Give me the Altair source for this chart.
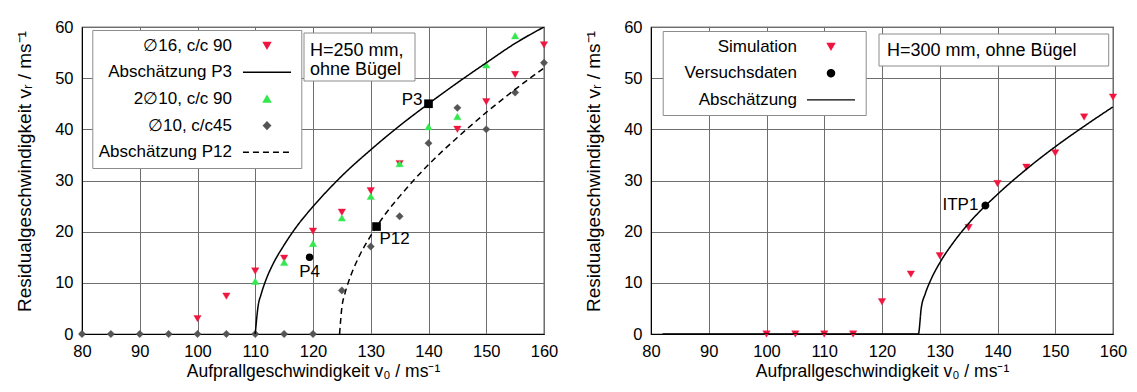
import altair as alt
import pandas as pd

FONT = "Liberation Sans"
RED = "#f0153f"
GREEN = "#33e84f"
GRAY = "#555555"
LINE_SYM = "M-6.8,0H6.8"

# ---------------- left panel: H=250 mm ----------------
d16_v0 = [100, 105, 110, 115, 120, 125, 130, 135, 145, 150, 155, 160]
d16_vr = [3.0, 7.4, 12.3, 14.8, 20.1, 23.8, 28.0, 33.3, 40.0, 45.4, 50.7, 56.5]
d2x10_v0 = [110, 115, 120, 125, 130, 135, 140, 145, 150, 155]
d2x10_vr = [10.3, 14.0, 17.7, 22.7, 26.9, 33.3, 40.5, 42.5, 52.6, 58.3]
d10_v0 = [80, 85, 90, 95, 100, 105, 110, 115, 120, 125, 130, 135, 140, 145, 150, 155, 160]
d10_vr = [0, 0, 0, 0, 0, 0, 0, 0, 0, 8.5, 17.1, 23.0, 37.3, 44.2, 40.0, 47.2, 53.0]

p3_v0 = [110, 110.5, 111, 112, 113, 115, 117.5, 120, 125, 130, 135, 140, 145, 150, 155, 160]
p3_vr = [0, 5.5, 7.7, 11.0, 13.5, 17.4, 21.5, 24.9, 30.9, 36.0, 40.7, 45.0, 49.1, 53.0, 56.8, 60.0]
p12_v0 = [124.6, 125, 125.5, 126, 127, 128, 130, 132.5, 135, 140, 145, 150, 155, 160]
p12_vr = [0, 5.2, 7.8, 9.7, 12.7, 15.2, 19.2, 23.4, 26.9, 33.1, 38.4, 43.3, 47.8, 52.0]

sq_names = ["P3", "P12"]
sq_v0 = [140, 131]
sq_vr = [45, 21]
p4_v0 = [119.4]
p4_vr = [15]

LEG_L = ["\u220516, c/c 90", "Absch\u00e4tzung P3", "2\u220510, c/c 90", "\u220510, c/c45", "Absch\u00e4tzung P12"]
COL_L = [RED, "black", GREEN, GRAY, "black"]
SHP_L = ["triangle-down", LINE_SYM, "triangle-up", "diamond", LINE_SYM]
DASH_L = [[1, 0], [1, 0], [1, 0], [1, 0], [6, 4]]
ANNOT_L = ["H=250 mm,", "ohne B\u00fcgel"]

# ---------------- right panel: H=300 mm ----------------
sim_v0 = [100, 105, 110, 115, 120, 125, 130, 135, 140, 145, 150, 155, 160]
sim_vr = [0, 0, 0, 0, 6.3, 11.7, 15.3, 20.8, 29.4, 32.6, 35.4, 42.4, 46.3]
exp_v0 = [137.9]
exp_vr = [25.1]
est_v0 = [82, 126.3, 126.8, 127.5, 128.5, 130, 132.5, 135, 140, 145, 150, 155, 160]
est_vr = [0, 0, 5.1, 7.9, 10.7, 13.9, 18.1, 21.6, 27.3, 32.2, 36.6, 40.6, 44.4]

LEG_R = ["Simulation", "Versuchsdaten", "Absch\u00e4tzung"]
COL_R = [RED, "black", "black"]
SHP_R = ["triangle-down", "circle", LINE_SYM]
DASH_R = [[1, 0], [1, 0], [1, 0]]
ANNOT_R = ["H=300 mm, ohne B\u00fcgel"]

X_TICKS = [80, 90, 100, 110, 120, 130, 140, 150, 160]
Y_TICKS = [0, 10, 20, 30, 40, 50, 60]
X_TITLE = "Aufprallgeschwindigkeit v\u2080 / ms\u207b\u00b9"
Y_TITLE = "Residualgeschwindigkeit v\u1d63 / ms\u207b\u00b9"

W, H = 462, 307

X = alt.X("v0:Q", scale=alt.Scale(domain=[80, 160], nice=False, zero=False),
          axis=alt.Axis(values=X_TICKS, title=X_TITLE, ticks=False, labelPadding=9,
                        titlePadding=3, labelFlush=False))
Y = alt.Y("vr:Q", scale=alt.Scale(domain=[0, 60], nice=False, zero=False),
          axis=alt.Axis(values=Y_TICKS, title=Y_TITLE, ticks=False, labelPadding=9,
                        titlePadding=20.5, titleFontSize=19, titleY=144))


def legend(lx, ly, loff, soff):
    return alt.Legend(orient="none", legendX=lx, legendY=ly, title=None,
                      labelAlign="right", labelOffset={"expr": str(loff)}, symbolOffset=soff,
                      labelFont=FONT, labelFontSize=17, labelColor="black", labelLimit=0,
                      symbolSize=50, symbolStrokeWidth=1.4, fillColor="white",
                      strokeColor="#8c8c8c", padding=7, rowPadding=8.7,
                      labelBaseline="middle")


def series_layers(pts, lns, dom, cols, shps, dashes, leg):
    fill = alt.Fill("serie:N", scale=alt.Scale(domain=dom, range=cols), legend=leg)
    stroke = alt.Stroke("serie:N", scale=alt.Scale(domain=dom, range=cols), legend=leg)
    shape = alt.Shape("serie:N", scale=alt.Scale(domain=dom, range=shps), legend=leg)
    dash = alt.StrokeDash("serie:N", scale=alt.Scale(domain=dom, range=dashes), legend=leg)
    p = alt.Chart(pts).mark_point(filled=True, opacity=1, size=55, strokeWidth=0.4).encode(
        x=X, y=Y, fill=fill, stroke=stroke, shape=shape, strokeDash=dash)
    l = alt.Chart(lns).mark_line(strokeWidth=1.5, interpolate="monotone", clip=True).encode(
        x=X, y=Y, stroke=stroke, strokeDash=dash, detail="serie:N")
    return p, l


def label(df, text, align, dx, dy):
    return alt.Chart(df).mark_text(align=align, baseline="middle", dx=dx, dy=dy,
                                   font=FONT, fontSize=17, color="black").encode(
        x=X, y=Y, text=alt.value(text))


def annot_box(x1, x2, y1, y2):
    return alt.Chart(pd.DataFrame({"k": [0]})).mark_rect(
        fill="white", stroke="#8c8c8c", strokeWidth=1).encode(
        x=alt.value(x1), x2=alt.value(x2), y=alt.value(y1), y2=alt.value(y2))


def annot_text(text, x, y):
    return alt.Chart(pd.DataFrame({"k": [0]})).mark_text(
        align="left", baseline="middle", font=FONT, fontSize=18, color="black").encode(
        x=alt.value(x), y=alt.value(y), text=alt.value(text))


# ---- left ----
ptsL = pd.DataFrame({
    "v0": d16_v0 + d2x10_v0 + d10_v0,
    "vr": d16_vr + d2x10_vr + d10_vr,
    "serie": [LEG_L[0]] * len(d16_v0) + [LEG_L[2]] * len(d2x10_v0) + [LEG_L[3]] * len(d10_v0),
})
lnsL = pd.DataFrame({
    "v0": p3_v0 + p12_v0,
    "vr": p3_vr + p12_vr,
    "serie": [LEG_L[1]] * len(p3_v0) + [LEG_L[4]] * len(p12_v0),
})
pL, lL = series_layers(ptsL, lnsL, LEG_L, COL_L, SHP_L, DASH_L, legend(10.3, 3, -43.5, 159.2))

sqdf = pd.DataFrame({"v0": sq_v0, "vr": sq_vr, "name": sq_names})
p4df = pd.DataFrame({"v0": p4_v0, "vr": p4_vr, "name": ["P4"]})
squares = alt.Chart(sqdf).mark_point(shape="square", filled=True, color="black",
                                     opacity=1, size=75).encode(x=X, y=Y)
circ4 = alt.Chart(p4df).mark_point(shape="circle", filled=True, color="black",
                                   opacity=1, size=55).encode(x=X, y=Y)
lab3 = label(sqdf.iloc[[0]], "P3", "right", -6, -4)
lab12 = label(sqdf.iloc[[1]], "P12", "left", 3, 12)
lab4 = label(p4df, "P4", "center", 0, 15)

left = alt.layer(
    pL, lL, squares, circ4, lab3, lab12, lab4,
    annot_box(222, 333, 6, 54), annot_text(ANNOT_L[0], 228, 23.5), annot_text(ANNOT_L[1], 228, 42.5),
).properties(width=W, height=H)

# ---- right ----
ptsR = pd.DataFrame({
    "v0": sim_v0 + exp_v0,
    "vr": sim_vr + exp_vr,
    "serie": [LEG_R[0]] * len(sim_v0) + [LEG_R[1]] * len(exp_v0),
})
lnsR = pd.DataFrame({"v0": est_v0, "vr": est_vr, "serie": [LEG_R[2]] * len(est_v0)})
pR, lR = series_layers(ptsR, lnsR, LEG_R, COL_R, SHP_R, DASH_R, legend(11.7, 4, -42.5, 152.8))
expdf = pd.DataFrame({"v0": exp_v0, "vr": exp_vr})
labI = label(expdf, "ITP1", "right", -7, -1)

right = alt.layer(
    pR, lR, labI,
    annot_box(228, 457.7, 7, 39), annot_text(ANNOT_R[0], 236, 24),
).properties(width=W, height=H)

chart = alt.hconcat(left, right, spacing=24).resolve_scale(
    fill="independent", stroke="independent", shape="independent", strokeDash="independent"
).resolve_legend(
    fill="independent", stroke="independent", shape="independent", strokeDash="independent"
).properties(
    padding={"left": 14, "top": 18, "right": 5, "bottom": 5},
    background="white",
).configure_axis(
    labelFont=FONT, labelFontSize=16.5, labelColor="black",
    titleFont=FONT, titleFontSize=17.5, titleFontWeight="normal", titleColor="black",
    gridColor="#6e6e6e", gridWidth=1, gridOpacity=1, domainColor="black",
).configure_view(stroke="black", strokeWidth=1.2)

chart.save("out.html", embed_options={"renderer": "svg", "actions": False})
